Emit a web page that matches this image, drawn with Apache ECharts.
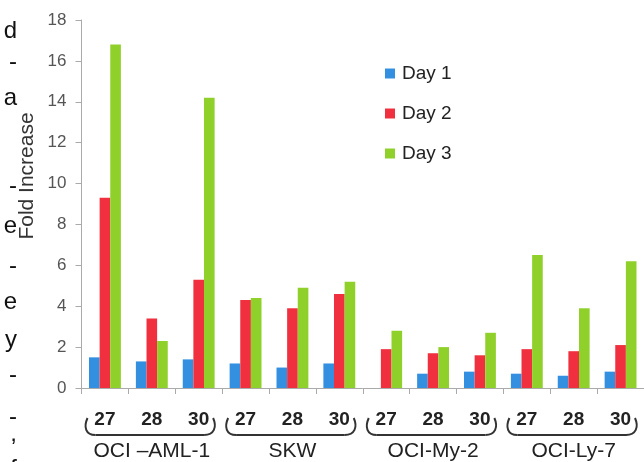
<!DOCTYPE html>
<html>
<head>
<meta charset="utf-8">
<script src="https://cdn.jsdelivr.net/npm/echarts@6/dist/echarts.min.js"></script>
<style>html,body{margin:0;padding:0;background:#fff;}#c{width:644px;height:462px;}</style>
</head>
<body>
<div id="c"></div>
<script>
const categories = ['27','28','30','27','28','30','27','28','30','27','28','30'];
const groups = ['OCI –AML-1','SKW','OCI-My-2','OCI-Ly-7'];
const seriesNames = ['Day 1','Day 2','Day 3'];
const day1 = [1.5,1.3,1.4, 1.2,1.0,1.2, 0,0.7,0.8, 0.7,0.6,0.8];
const day2 = [9.3,3.4,5.3, 4.3,3.9,4.6, 1.9,1.7,1.6, 1.9,1.8,2.1];
const day3 = [16.8,2.3,14.2, 4.4,4.9,5.2, 2.8,2.0,2.7, 6.5,3.9,6.2];
const yMin = 0, yMax = 18, yStep = 2;
const yTitle = 'Fold Increase';
const sideText = [['d',31],['-',62],['a',98],['-',186],['e',226],['-',266],['e',302],['y',340],['-',375],['-',417],[',',434],['f',469]];

const colors = ['#3390e0','#f0303e','#8fd12a'];
const chart = echarts.init(document.getElementById('c'));
const font = 'Liberation Sans, Arial, sans-serif';

chart.setOption({
  animation: false,
  color: colors,
  grid: {left: 81.5, right: -5, top: 20, bottom: 73, containLabel: false},
  legend: {
    orient: 'vertical', left: 380, top: 59, itemWidth: 10, itemHeight: 10, itemGap: 21,
    icon: 'rect', data: seriesNames,
    textStyle: {fontSize: 19, color: '#222', fontFamily: font, padding: [0,0,0,2]}
  },
  xAxis: [{
    type: 'category', data: categories,
    axisLine: {lineStyle: {color: '#aaa', width: 1}},
    axisTick: {show: true, length: 6, lineStyle: {color: '#aaa'}},
    axisLabel: {margin: 22, fontSize: 19, fontWeight: 'bold', color: '#222', fontFamily: font, interval: 0}
  }, {
    type: 'category', data: groups, position: 'bottom', offset: 0,
    axisLine: {show: false}, axisTick: {show: false},
    axisLabel: {margin: 53, fontSize: 21, color: '#222', fontFamily: font, interval: 0}
  }],
  yAxis: {
    type: 'value', min: yMin, max: yMax, interval: yStep,
    axisLine: {show: true, lineStyle: {color: '#aaa'}},
    axisTick: {show: true, length: 6, lineStyle: {color: '#aaa'}},
    splitLine: {show: false},
    axisLabel: {margin: 15, fontSize: 17, color: '#555', fontFamily: font}
  },
  series: [
    {name: seriesNames[0], type: 'bar', data: day1, barGap: '0%', barCategoryGap: '32%', xAxisIndex: 0},
    {name: seriesNames[1], type: 'bar', data: day2, barGap: '0%', barCategoryGap: '32%', xAxisIndex: 0},
    {name: seriesNames[2], type: 'bar', data: day3, barGap: '0%', barCategoryGap: '32%', xAxisIndex: 0}
  ]
});

const graphics = [];
const c0 = chart.convertToPixel({xAxisIndex: 0}, 0);
const c1 = chart.convertToPixel({xAxisIndex: 0}, 1);
const w = c1 - c0;
const braceStyle = {fill: null, stroke: '#333', lineWidth: 2};
for (let g = 0; g < groups.length; g++) {
  const xL = chart.convertToPixel({xAxisIndex: 0}, g*3) - w/2 + 4;
  const xR = chart.convertToPixel({xAxisIndex: 0}, g*3 + 2) + w/2 - 8;
  const yb = 435, yt = 418;
  graphics.push({type: 'bezierCurve',
    shape: {x1: xL+2, y1: yt, cpx1: xL-2, cpy1: yt+9, cpx2: xL, cpy2: yb, x2: xL+10, y2: yb},
    style: braceStyle});
  graphics.push({type: 'line',
    shape: {x1: xL+10, y1: yb, x2: xR-10, y2: yb}, style: braceStyle});
  graphics.push({type: 'bezierCurve',
    shape: {x1: xR-10, y1: yb, cpx1: xR, cpy1: yb, cpx2: xR+3, cpy2: yt+9, x2: xR-1, y2: yt},
    style: braceStyle});
}
graphics.push({
  type: 'text', x: 27, y: 176, rotation: Math.PI/2,
  style: {text: yTitle, fontSize: 21, fill: '#333', fontFamily: font, textAlign: 'center', textVerticalAlign: 'middle'}
});
sideText.forEach(([t, y]) => {
  graphics.push({type: 'text', x: 17, y: y,
    style: {text: t, fontSize: 24, fill: '#111', fontFamily: font, textAlign: 'right', textVerticalAlign: 'middle'}});
});
chart.setOption({graphic: graphics});
</script>
</body>
</html>
